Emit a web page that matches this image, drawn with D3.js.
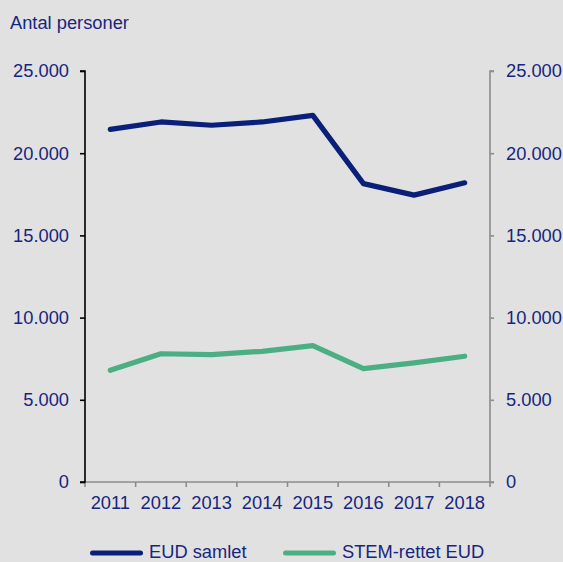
<!DOCTYPE html>
<html>
<head>
<meta charset="utf-8">
<script src="https://cdn.jsdelivr.net/npm/d3@7"></script>
<style>
  html, body { margin: 0; padding: 0; background: #e1e1e1; }
  svg { display: block; }
  text { font-family: "Liberation Sans", Arial, sans-serif; }
</style>
</head>
<body>
<svg id="chart" width="563" height="562"></svg>
<script>
// Antal personer, 2011-2018
const years = ["2011", "2012", "2013", "2014", "2015", "2016", "2017", "2018"];
const eudSamlet = [21450, 21900, 21700, 21900, 22300, 18150, 17450, 18200];
const stemEud = [6800, 7800, 7750, 7950, 8300, 6900, 7250, 7650];
const yTicks = [0, 5000, 10000, 15000, 20000, 25000];
const seriesNames = ["EUD samlet", "STEM-rettet EUD"];
const seriesColors = ["#0a1f78", "#4caf84"];

const textColor = "#17267f";
const fontSize = 18.3;

const svg = d3.select("#chart");
const plotLeft = 85, plotRight = 490, plotTop = 71, plotBottom = 482;

const x = d3.scaleBand().domain(years).range([plotLeft, plotRight]).padding(0);
const y = d3.scaleLinear().domain([0, 25000]).range([plotBottom, plotTop]);
const fmt = v => d3.format(",")(v).replace(/,/g, ".");

// "Antal personer" title
svg.append("text")
  .attr("x", 10).attr("y", 29)
  .attr("fill", textColor).attr("font-size", fontSize)
  .text("Antal personer");

// Left axis (black)
const gL = svg.append("g").attr("transform", `translate(${plotLeft},0)`)
  .call(d3.axisLeft(y).tickValues(yTicks).tickFormat(fmt).tickSize(5).tickPadding(11));
gL.selectAll("path, line").attr("stroke", "#000").attr("stroke-width", 1.6);
gL.select(".domain").attr("d", `M-5,${plotTop}H0V${plotBottom}H-5`);
gL.selectAll("text").attr("fill", textColor).attr("font-size", fontSize)
  .attr("font-family", "Liberation Sans, Arial, sans-serif");

// Right axis (grey)
const gR = svg.append("g").attr("transform", `translate(${plotRight},0)`)
  .call(d3.axisRight(y).tickValues(yTicks).tickFormat(fmt).tickSize(4).tickPadding(12));
gR.selectAll("path, line").attr("stroke", "#8c8c8c").attr("stroke-width", 1.6);
gR.select(".domain").attr("d", `M4,${plotTop}H0V${plotBottom}H4`);
gR.selectAll("text").attr("fill", textColor).attr("font-size", fontSize)
  .attr("font-family", "Liberation Sans, Arial, sans-serif");

// Bottom axis: labels centred in each year band, ticks on band edges
const gB = svg.append("g").attr("transform", `translate(0,${plotBottom})`)
  .call(d3.axisBottom(x).tickSize(0).tickPadding(14));
gB.select(".domain").attr("d", `M${plotLeft},0H${plotRight}`)
  .attr("stroke", "#8c8c8c").attr("stroke-width", 1.6);
gB.selectAll("text").attr("fill", textColor).attr("font-size", fontSize)
  .attr("font-family", "Liberation Sans, Arial, sans-serif");
const edges = years.map(d => x(d)).concat([x(years[years.length - 1]) + x.bandwidth()]);
gB.selectAll("line.edge").data(edges).join("line")
  .attr("class", "edge")
  .attr("x1", d => d).attr("x2", d => d)
  .attr("y1", 0).attr("y2", 5)
  .attr("stroke", "#8c8c8c").attr("stroke-width", 1.6);
// keep left axis line on top of the x-axis line at the corner
gL.raise();

// Lines
const line = d3.line()
  .x((d, i) => x(years[i]) + x.bandwidth() / 2)
  .y(d => y(d));

[eudSamlet, stemEud].forEach((vals, k) => {
  svg.append("path")
    .datum(vals)
    .attr("fill", "none")
    .attr("stroke", seriesColors[k])
    .attr("stroke-width", 5.2)
    .attr("stroke-linecap", "round")
    .attr("stroke-linejoin", "round")
    .attr("d", line);
});

// Legend
const legendX = [90, 283];
seriesNames.forEach((name, k) => {
  const g = svg.append("g").attr("transform", `translate(${legendX[k]},553)`);
  g.append("line")
    .attr("x1", 2.5).attr("x2", 50.5).attr("y1", 0).attr("y2", 0)
    .attr("stroke", seriesColors[k]).attr("stroke-width", 5)
    .attr("stroke-linecap", "round");
  g.append("text")
    .attr("x", 59).attr("y", 4.5)
    .attr("fill", textColor).attr("font-size", fontSize)
    .text(name);
});
</script>
</body>
</html>
